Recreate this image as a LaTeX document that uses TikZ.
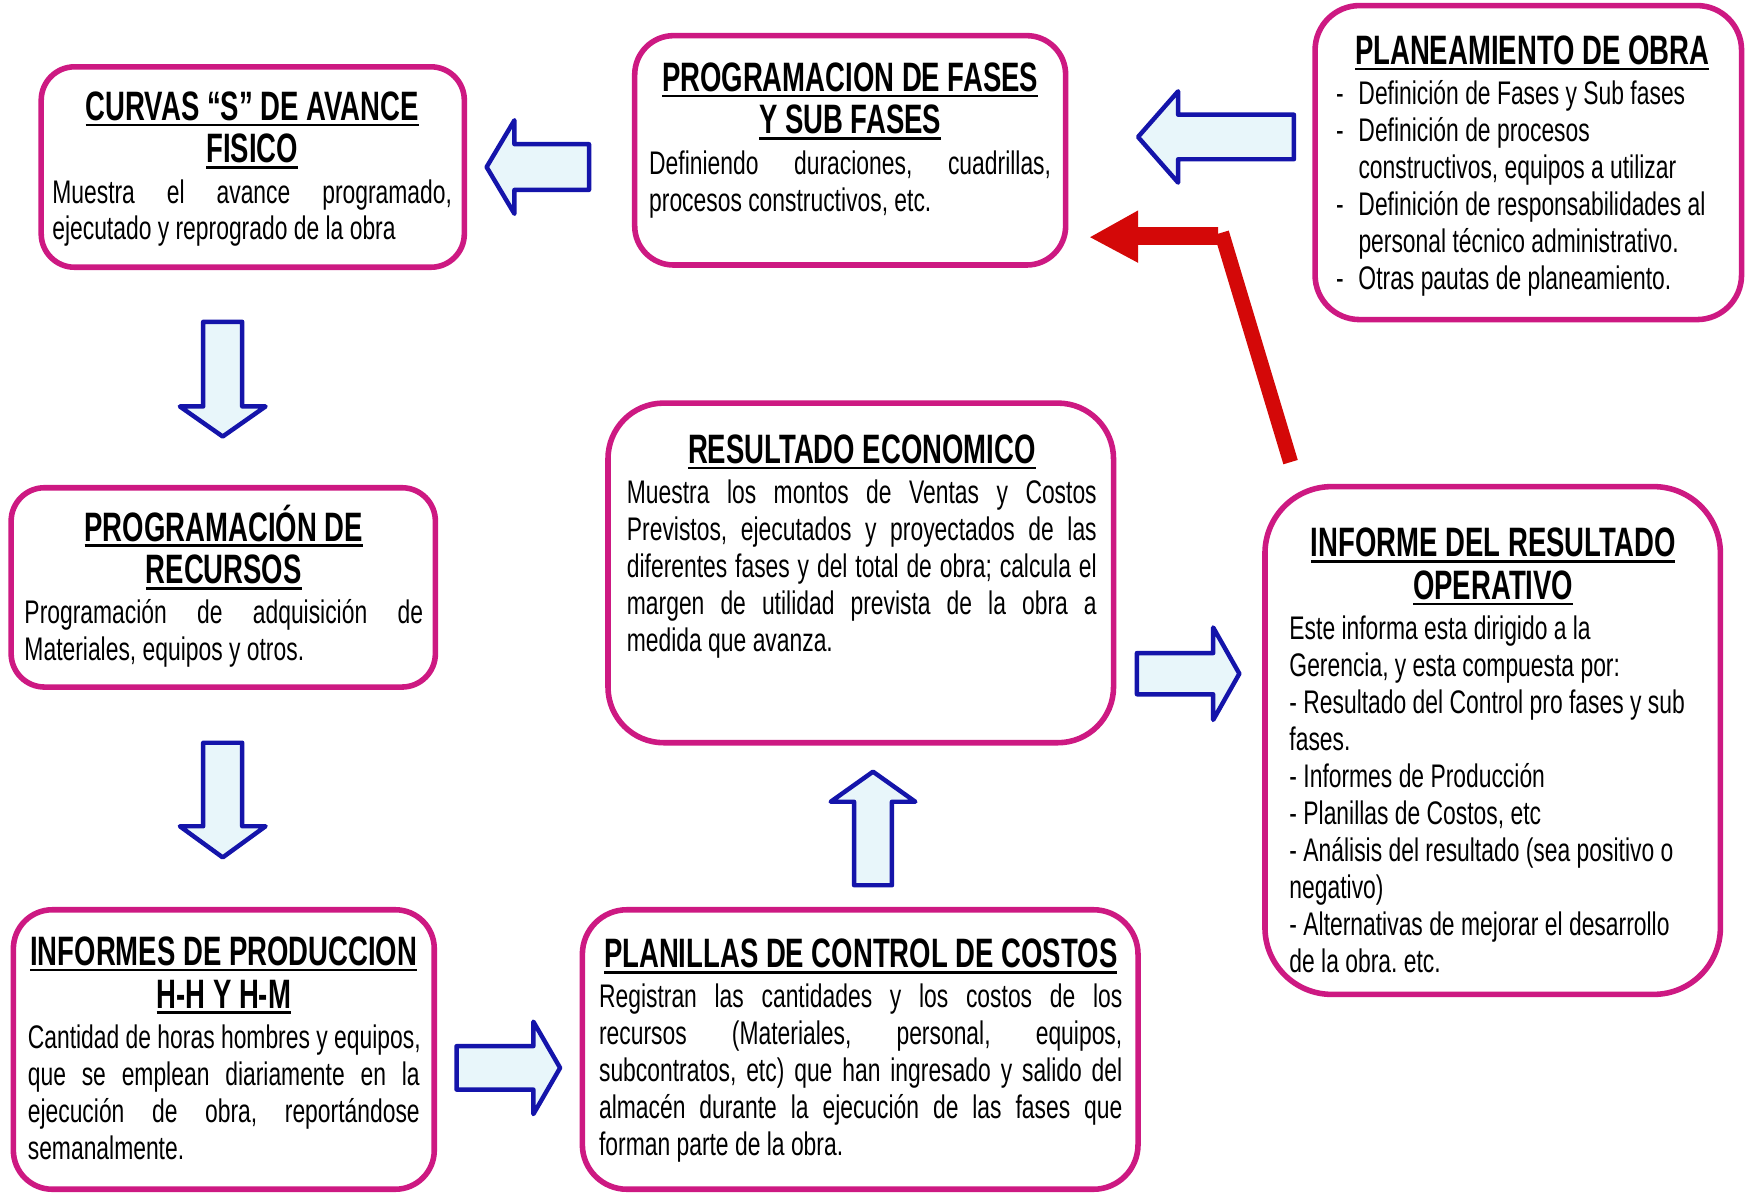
\documentclass[tikz,border=0pt]{standalone}
\usepackage{fontspec}
\setmainfont{Liberation Sans}[FakeStretch=0.70]
\newfontfamily\titlef{Liberation Sans}[FakeStretch=0.67]
\usetikzlibrary{fit}
\definecolor{boxmag}{RGB}{205,25,130}
\definecolor{arrblue}{RGB}{20,20,170}
\definecolor{arrfill}{RGB}{232,246,250}
\definecolor{redarr}{RGB}{212,8,8}
\newcommand\tul[1]{\setbox0=\hbox{#1}\rlap{\rule[-3pt]{\wd0}{1.3pt}}\box0}
\newcommand\TT[1]{\hbox to\hsize{\rule{0pt}{20pt}\hfil\tul{#1}\hfil}}
\newcommand\Ti[1]{\hbox to\hsize{\hfil\tul{#1}\hfil}}
\newcommand\J[1]{\hbox to\hsize{\spaceskip=\fontdimen2\font plus 1fil\relax #1}}
\newcommand\Lf[1]{\hbox to\hsize{#1\hfil}}
\newcommand\Dl[1]{\hbox to\hsize{\hbox to 0.4cm{-\hfil}#1\hfil}}
\newcommand\Ind[1]{\hbox to\hsize{\hskip0.4cm #1\hfil}}
\newcommand\tb[2]{\vbox{\hsize=#1\relax\lineskiplimit=-100pt\frenchspacing
  \titlef\bfseries\fontsize{21}{21.8}\selectfont #2}}
\newcommand\bodyset{\normalfont\fontsize{16.7}{18.9}\selectfont\baselineskip=20.5pt\relax}
\newcommand\nextl{\baselineskip=18.9pt\relax}
\tikzset{
  box/.style={draw=boxmag, line width=0.1cm, fill=white, inner sep=0pt, outer sep=0pt},
  txt/.style={inner sep=0pt, outer sep=0pt, anchor=north west},
  blkstyle/.style={draw=arrblue, fill=arrfill, line width=0.08cm, line join=round},
  pics/blk/.style n args={4}{code={
    \draw[blkstyle] (0,0) -- (-#1,#2) -- (-#1,#3) -- (-#4,#3) -- (-#4,-#3) -- (-#1,-#3) -- (-#1,-#2) -- cycle;}}
}
\begin{document}
\begin{tikzpicture}[x=0.02cm, y=-0.02cm]
\useasboundingbox (0,0) rectangle (1568,1072);
\fill[white] (0,0) rectangle (1568,1072);

% boxes
\node[box, rounded corners=0.6cm, fit={(37,60) (417,240)}] (curvas) {};
\node[box, rounded corners=0.7cm, fit={(570,32) (957,238)}] (fases) {};
\node[box, rounded corners=0.8cm, fit={(1181,5) (1564,287)}] (plan) {};
\node[box, rounded corners=0.6cm, fit={(10,438) (391,617)}] (recursos) {};
\node[box, rounded corners=0.7cm, fit={(12,817) (390,1068)}] (informes) {};
\node[box, rounded corners=1.0cm, fit={(546,362) (1000,667)}] (resultado) {};
\node[box, rounded corners=0.8cm, fit={(523,817) (1022,1068)}] (planillas) {};
\node[box, rounded corners=1.2cm, fit={(1136,437) (1545,893)}] (informe) {};

% texts
\node[txt] (curvasT) at (47,72.85) {\tb{7.18cm}{\TT{CURVAS “S” DE AVANCE}\Ti{FISICO}%
  \bodyset\J{Muestra el avance programado,}\nextl\Lf{ejecutado y reprogrado de la obra}}};
\node[txt] (fasesT) at (583,46.85) {\tb{7.22cm}{\TT{PROGRAMACION DE FASES}\Ti{Y SUB FASES}%
  \bodyset\J{Definiendo duraciones, cuadrillas,}\nextl\Lf{procesos constructivos, etc.}}};
\node[txt] (planT) at (1200,22.85) {\tb{7.04cm}{\TT{PLANEAMIENTO DE OBRA}%
  \bodyset\Dl{Definición de Fases y Sub fases}\nextl\Dl{Definición de procesos}%
  \Ind{constructivos, equipos a utilizar}\Dl{Definición de responsabilidades al}%
  \Ind{personal técnico administrativo.}\Dl{Otras pautas de planeamiento.}}};
\node[txt] (recursosT) at (22,450.85) {\tb{7.16cm}{\TT{PROGRAMACIÓN DE}\Ti{RECURSOS}%
  \bodyset\J{Programación de adquisición de}\nextl\Lf{Materiales, equipos y otros.}}};
\node[txt] (informesT) at (25,831.85) {\tb{7.04cm}{\TT{INFORMES DE PRODUCCION}\Ti{H-H Y H-M}%
  \bodyset\J{Cantidad de horas hombres y equipos,}\nextl\J{que se emplean diariamente en la}%
  \J{ejecución de obra, reportándose}\Lf{semanalmente.}}};
\node[txt] (resultadoT) at (563,380.85) {\tb{8.44cm}{\TT{RESULTADO ECONOMICO}%
  \bodyset\J{Muestra los montos de Ventas y Costos}\nextl\J{Previstos, ejecutados y proyectados de las}%
  \J{diferentes fases y del total de obra; calcula el}\J{margen de utilidad prevista de la obra a}%
  \Lf{medida que avanza.}}};
\node[txt] (planillasT) at (538,833.85) {\tb{9.4cm}{\TT{PLANILLAS DE CONTROL DE COSTOS}%
  \bodyset\J{Registran las cantidades y los costos de los}\nextl\J{recursos (Materiales, personal, equipos,}%
  \J{subcontratos, etc) que han ingresado y salido del}\J{almacén durante la ejecución de las fases que}%
  \Lf{forman parte de la obra.}}};
\node[txt] (informeT) at (1158,464.85) {\tb{7.32cm}{\TT{INFORME DEL RESULTADO}\Ti{OPERATIVO}%
  \bodyset\Lf{Este informa esta dirigido a la}\nextl\Lf{Gerencia, y esta compuesta por:}%
  \Lf{- Resultado del Control pro fases y sub}\Lf{fases.}\Lf{- Informes de Producción}%
  \Lf{- Planillas de Costos, etc}\Lf{- Análisis del resultado (sea positivo o}\Lf{negativo)}%
  \Lf{- Alternativas de mejorar el desarrollo}\Lf{de la obra. etc.}}};

% blue block arrows
\pic[rotate=180] at (437,150) {blk={25}{42}{20.5}{92}};
\pic[rotate=180] at (1022,123) {blk={36}{41}{20}{140}};
\pic[rotate=-90] at (200,392) {blk={27}{38.5}{17.5}{103}};
\pic[rotate=-90] at (200,770) {blk={28}{38.5}{17.5}{103}};
\pic at (503,959) {blk={24}{41.5}{19.5}{93}};
\pic[rotate=90] at (784,693) {blk={27}{38}{17}{102}};
\pic at (1113,605) {blk={23.5}{41.5}{18.5}{92}};

% red bent arrow
\draw[redarr, line width=0.27cm] (1159,415) -- (1097,209);
\fill[redarr] (979,213) -- (1022,189) -- (1022,204) -- (1094,204) -- (1094,220) -- (1022,220) -- (1022,236) -- cycle;
\end{tikzpicture}
\end{document}
